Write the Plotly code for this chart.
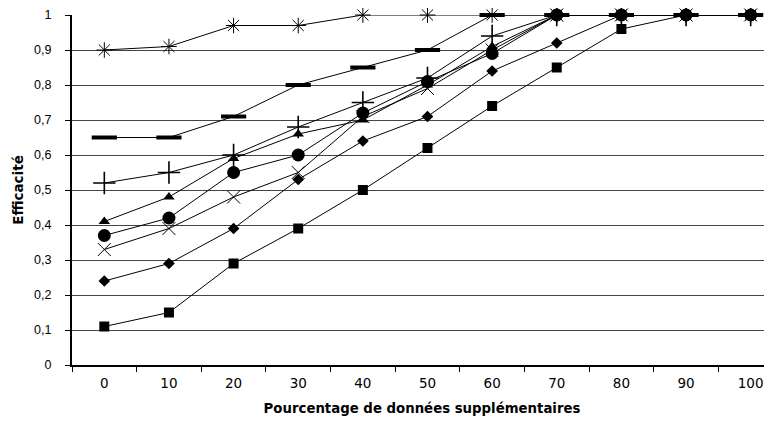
import plotly.graph_objects as go

# pourcentage de données supplémentaires
categories = ['0', '10', '20', '30', '40', '50', '60', '70', '80', '90', '100']

serie_etoile = [0.90, 0.91, 0.97, 0.97, 1.0, 1.0, 1.0, 1.0, 1.0, 1.0, 1.0]
serie_tiret = [0.65, 0.65, 0.71, 0.80, 0.85, 0.90, 1.0, 1.0, 1.0, 1.0, 1.0]
serie_plus = [0.52, 0.55, 0.60, 0.68, 0.75, 0.82, 0.94, 1.0, 1.0, 1.0, 1.0]
serie_triangle = [0.41, 0.48, 0.59, 0.66, 0.70, 0.80, 0.91, 1.0, 1.0, 1.0, 1.0]
serie_rond = [0.37, 0.42, 0.55, 0.60, 0.72, 0.81, 0.89, 1.0, 1.0, 1.0, 1.0]
serie_croix = [0.33, 0.39, 0.48, 0.55, 0.71, 0.79, 0.90, 1.0, 1.0, 1.0, 1.0]
serie_losange = [0.24, 0.29, 0.39, 0.53, 0.64, 0.71, 0.84, 0.92, 1.0, 1.0, 1.0]
serie_carre = [0.11, 0.15, 0.29, 0.39, 0.50, 0.62, 0.74, 0.85, 0.96, 1.0, 1.0]

y_ticks = [0, 0.1, 0.2, 0.3, 0.4, 0.5, 0.6, 0.7, 0.8, 0.9, 1]
y_labels = ['0', '0,1', '0,2', '0,3', '0,4', '0,5', '0,6', '0,7', '0,8', '0,9', '1']

series = [
    (serie_etoile, dict(symbol='asterisk-open', size=13, color='black', line=dict(color='black', width=1))),
    (serie_tiret, dict(symbol='line-ew-open', size=18, color='black', line=dict(color='black', width=4))),
    (serie_plus, dict(symbol='cross-thin-open', size=16, color='black', line=dict(color='black', width=1.6))),
    (serie_triangle, dict(symbol='triangle-up', size=10, color='black')),
    (serie_rond, dict(symbol='circle', size=13, color='black')),
    (serie_croix, dict(symbol='x-thin-open', size=13, color='black', line=dict(color='black', width=1))),
    (serie_losange, dict(symbol='diamond', size=9, color='black')),
    (serie_carre, dict(symbol='square', size=10, color='black')),
]

fig = go.Figure()
for vals, mk in series:
    fig.add_trace(go.Scatter(x=categories, y=vals, mode='lines+markers',
                             line=dict(color='black', width=1), marker=mk,
                             showlegend=False, cliponaxis=False))

# the page body has an 8px margin, so the margins are shifted to compensate
fig.update_layout(
    width=772, height=423,
    margin=dict(l=64, r=8, t=7, b=66),
    paper_bgcolor='white', plot_bgcolor='white',
    font=dict(family='Liberation Sans, Arial, sans-serif', size=13, color='black'),
)
fig.update_xaxes(
    type='category', range=[-0.5, 10.33], tickson='boundaries',
    ticks='outside', ticklen=5, tickcolor='black', tickwidth=1,
    showline=True, linecolor='black', linewidth=2, showgrid=False,
    tickfont=dict(family='DejaVu Sans', size=13.5), ticklabelstandoff=5, automargin=False,
    title=dict(text='<b>Pourcentage de données supplémentaires</b>',
               font=dict(family='DejaVu Sans', size=13.3, color='black'), standoff=13),
)
fig.update_yaxes(
    range=[0, 1], tickvals=y_ticks, ticktext=y_labels,
    ticks='outside', ticklen=5, tickcolor='black', tickwidth=1,
    showline=True, linecolor='black', linewidth=2,
    showgrid=True, gridcolor='#444', gridwidth=1, zeroline=False,
    tickfont=dict(size=12.5), ticklabelstandoff=11, automargin=False,
    title=dict(text='<b>Efficacité</b>', font=dict(family='DejaVu Sans', size=13.5, color='black'), standoff=7),
)

fig.write_html("out.html")
